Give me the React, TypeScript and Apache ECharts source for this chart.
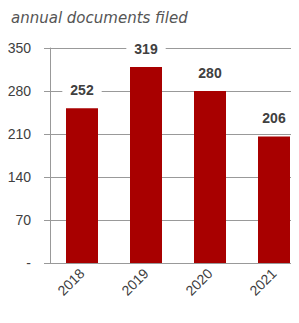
import React, { useEffect, useRef } from "react";
import * as echarts from "echarts";

const years = ["2018", "2019", "2020", "2021"];
const documentsFiled = [252, 319, 280, 206];
const titleText = "annual documents filed";

export default function App() {
  const ref = useRef<HTMLDivElement>(null);
  useEffect(() => {
    if (!ref.current) return;
    const chart = echarts.init(ref.current, undefined, { renderer: "svg" });
    chart.setOption({
      animation: false,
      title: {
        text: titleText,
        left: -2,
        top: -3,
        textStyle: {
          fontSize: 15,
          fontStyle: "italic",
          fontWeight: "normal",
          color: "#555",
          fontFamily: "DejaVu Sans",
        },
      },
      grid: {
        left: 42,
        width: 256,
        top: 40,
        height: 215,
        containLabel: false,
        outerBoundsMode: "none",
      },
      xAxis: {
        type: "category",
        data: years,
        axisLine: { lineStyle: { color: "#999" } },
        axisTick: { show: false },
        axisLabel: {
          rotate: 45,
          margin: 8,
          fontSize: 14,
          color: "#404040",
          fontFamily: "Liberation Sans",
        },
      },
      yAxis: {
        type: "value",
        min: 0,
        max: 350,
        interval: 70,
        axisLine: { show: true, lineStyle: { color: "#999" } },
        axisTick: { show: true, length: 6, lineStyle: { color: "#999" } },
        splitLine: { lineStyle: { color: "#999" } },
        axisLabel: {
          margin: 19,
          fontSize: 14,
          color: "#404040",
          fontFamily: "Liberation Sans",
          formatter: (v: number) => (v === 0 ? "-" : String(v)),
        },
      },
      series: [
        {
          type: "bar",
          data: documentsFiled,
          barWidth: 32,
          itemStyle: { color: "#a80000" },
          label: {
            show: true,
            position: "top",
            distance: 10,
            fontSize: 14,
            fontWeight: "bold",
            color: "#404040",
            fontFamily: "Liberation Sans",
            backgroundColor: "#fff",
            padding: [1, 8],
          },
        },
      ],
    });
    return () => chart.dispose();
  }, []);
  return <div ref={ref} style={{ width: 291, height: 315 }} />;
}
